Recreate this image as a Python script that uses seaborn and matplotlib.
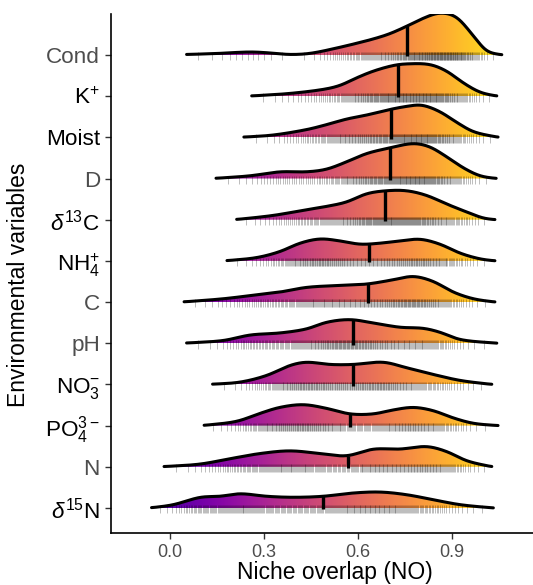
import numpy as np
import matplotlib
matplotlib.use("Agg")
import matplotlib.pyplot as plt
from matplotlib.patches import Polygon
import seaborn as sns

# ---------------- data ----------------
# categories from top to bottom
labels = [r"Cond", r"K$^{+}$", "Moist", "D", r"$\mathit{\delta}^{13}$C", r"NH$_4^{+}$",
          "C", "pH", r"NO$_3^{-}$", r"PO$_4^{3-}$", "N", r"$\mathit{\delta}^{15}$N"]

# ridge outlines: niche-overlap positions and ridge heights (in row units)
cond_x = [0.053, 0.15, 0.256, 0.32, 0.383, 0.45, 0.543, 0.6, 0.649, 0.70, 0.756, 0.809, 0.862, 0.916, 0.969, 1.01, 1.06]
cond_h = [0.012, 0.036, 0.073, 0.049, 0.012, 0.041, 0.187, 0.291, 0.388, 0.510, 0.697, 0.891, 1.019, 0.915, 0.468, 0.104, 0.0]

k_x = [0.261, 0.383, 0.489, 0.543, 0.596, 0.649, 0.713, 0.756, 0.830, 0.884, 0.937, 0.990, 1.044]
k_h = [0.005, 0.066, 0.163, 0.260, 0.444, 0.607, 0.745, 0.784, 0.769, 0.607, 0.323, 0.097, 0.0]

moist_x = [0.236, 0.330, 0.436, 0.500, 0.564, 0.628, 0.709, 0.756, 0.804, 0.862, 0.916, 0.969, 1.048]
moist_h = [0.005, 0.056, 0.187, 0.308, 0.444, 0.541, 0.687, 0.752, 0.784, 0.624, 0.364, 0.138, 0.0]

d_x = [0.147, 0.256, 0.351, 0.436, 0.500, 0.564, 0.628, 0.703, 0.777, 0.830, 0.884, 0.937, 0.990, 1.042]
d_h = [0.005, 0.066, 0.163, 0.163, 0.226, 0.405, 0.607, 0.745, 0.850, 0.769, 0.527, 0.260, 0.066, 0.0]

d13c_x = [0.213, 0.330, 0.436, 0.500, 0.564, 0.628, 0.692, 0.756, 0.820, 0.884, 0.948, 1.0, 1.038]
d13c_h = [0.005, 0.104, 0.243, 0.323, 0.430, 0.631, 0.704, 0.704, 0.590, 0.381, 0.187, 0.041, 0.0]

nh4_x = [0.182, 0.277, 0.351, 0.415, 0.479, 0.543, 0.607, 0.671, 0.735, 0.799, 0.863, 0.927, 0.990, 1.038]
nh4_h = [0.005, 0.080, 0.226, 0.430, 0.534, 0.485, 0.405, 0.430, 0.485, 0.527, 0.405, 0.187, 0.049, 0.0]

c_x = [0.045, 0.170, 0.277, 0.351, 0.436, 0.543, 0.628, 0.713, 0.777, 0.841, 0.905, 0.969, 1.038]
c_h = [0.005, 0.080, 0.177, 0.243, 0.357, 0.405, 0.437, 0.541, 0.624, 0.502, 0.243, 0.080, 0.0]

ph_x = [0.053, 0.170, 0.256, 0.351, 0.436, 0.500, 0.575, 0.649, 0.735, 0.809, 0.863, 0.927, 1.044]
ph_h = [0.005, 0.066, 0.201, 0.250, 0.347, 0.510, 0.575, 0.493, 0.388, 0.364, 0.267, 0.090, 0.0]

no3_x = [0.136, 0.224, 0.309, 0.383, 0.436, 0.511, 0.585, 0.681, 0.756, 0.841, 0.927, 1.028]
no3_h = [0.005, 0.056, 0.218, 0.461, 0.541, 0.485, 0.485, 0.541, 0.405, 0.243, 0.097, 0.0]

po4_x = [0.109, 0.213, 0.288, 0.351, 0.426, 0.500, 0.575, 0.649, 0.713, 0.777, 0.841, 0.905, 0.969, 1.048]
po4_h = [0.005, 0.104, 0.299, 0.444, 0.510, 0.420, 0.284, 0.284, 0.381, 0.444, 0.364, 0.187, 0.056, 0.0]

n_x = [-0.019, 0.096, 0.202, 0.288, 0.383, 0.479, 0.564, 0.649, 0.735, 0.820, 0.884, 0.948, 1.028]
n_h = [0.005, 0.066, 0.211, 0.323, 0.388, 0.323, 0.267, 0.430, 0.430, 0.493, 0.371, 0.146, 0.0]

d15n_x = [-0.059, 0.011, 0.096, 0.160, 0.224, 0.309, 0.394, 0.489, 0.585, 0.671, 0.756, 0.841, 0.927, 1.033]
d15n_h = [0.005, 0.080, 0.260, 0.284, 0.347, 0.284, 0.260, 0.284, 0.364, 0.388, 0.323, 0.201, 0.080, 0.0]

medians = [0.758, 0.730, 0.707, 0.702, 0.687, 0.636, 0.632, 0.585, 0.584, 0.575, 0.568, 0.488]

ridges_x = [cond_x, k_x, moist_x, d_x, d13c_x, nh4_x, c_x, ph_x, no3_x, po4_x, n_x, d15n_x]
ridges_h = [cond_h, k_h, moist_h, d_h, d13c_h, nh4_h, c_h, ph_h, no3_h, po4_h, n_h, d15n_h]

xticks = [0.0, 0.3, 0.6, 0.9]
xtick_labels = ["0.0", "0.3", "0.6", "0.9"]

# ---------------- style ----------------
sns.set_theme(style="ticks")
plt.rcParams["font.family"] = ["Liberation Sans", "DejaVu Sans"]
plt.rcParams["mathtext.fontset"] = "custom"
plt.rcParams["mathtext.rm"] = "Liberation Sans"
plt.rcParams["mathtext.it"] = "Liberation Sans:italic"
plt.rcParams["mathtext.default"] = "regular"

label_colors = ["#4d4d4d", "black", "black", "#4d4d4d", "black", "black",
                "#4d4d4d", "#4d4d4d", "black", "black", "#4d4d4d", "black"]
cmap = sns.color_palette("plasma", as_cmap=True)


def smooth_curve(x, y, xn):
    """Cubic Hermite curve through the read points, lightly smoothed for drawing."""
    x = np.asarray(x, float)
    y = np.asarray(y, float)
    n = len(x)
    h = np.diff(x)
    d = np.zeros(n)
    d[1:-1] = (y[2:] - y[:-2]) / (x[2:] - x[:-2])
    d[0] = (y[1] - y[0]) / h[0]
    d[-1] = (y[-1] - y[-2]) / h[-1]
    idx = np.clip(np.searchsorted(x, xn) - 1, 0, n - 2)
    t = (xn - x[idx]) / h[idx]
    h00 = 2 * t**3 - 3 * t**2 + 1
    h10 = t**3 - 2 * t**2 + t
    h01 = -2 * t**3 + 3 * t**2
    h11 = t**3 - t**2
    yn = (h00 * y[idx] + h10 * h[idx] * d[idx] + h01 * y[idx + 1] + h11 * h[idx] * d[idx + 1])
    # gentle rendering smoothing (kernel of ~0.012 in x)
    dx = xn[1] - xn[0]
    sig = 0.012 / dx
    k = np.arange(-int(3 * sig), int(3 * sig) + 1)
    ker = np.exp(-0.5 * (k / sig) ** 2)
    ker /= ker.sum()
    pad = len(k) // 2
    ypad = np.r_[np.full(pad, yn[0]), yn, np.full(pad, yn[-1])]
    return np.convolve(ypad, ker, mode="valid")


fig = plt.figure(figsize=(5.33, 5.85), dpi=100)
ax = fig.add_axes([111 / 533, 52 / 585, 422 / 533, 519 / 585])

XMIN, XMAX = -0.1885, 1.1597
nrows = len(labels)
grad_x = np.linspace(XMIN, XMAX, 800)
grad_rgba = cmap(np.clip(0.15 + 0.76 * grad_x, 0, 1))[None, :, :]

for i in range(nrows):
    base = nrows - 1 - i
    z = 2 + i * 5
    xr = np.asarray(ridges_x[i])
    xs = np.linspace(xr[0], xr[-1], 700)
    hs = np.clip(smooth_curve(xr, ridges_h[i], xs), 0.003, None)

    verts = np.column_stack([np.r_[xs, xs[-1], xs[0]], np.r_[base + hs, base, base]])
    poly = Polygon(verts, closed=True, facecolor="none", edgecolor="none",
                   transform=ax.transData, zorder=z)
    ax.add_patch(poly)
    im = ax.imshow(grad_rgba, extent=[XMIN, XMAX, base, base + 1.2],
                   aspect="auto", interpolation="bilinear", zorder=z)
    im.set_clip_path(poly)

    # rug of observations (positions from the ridge distribution)
    cdf = np.cumsum(hs)
    cdf = cdf / cdf[-1]
    q = (np.arange(260) + 0.5) / 260
    rug = np.interp(q, cdf, xs)
    ax.vlines(rug, base - 0.13, base + 0.07, color="black", alpha=0.33,
              lw=0.55, zorder=z + 1)

    sns.lineplot(x=xs, y=base + hs, ax=ax, color="black", lw=2.2,
                 estimator=None, sort=False, zorder=z + 2,
                 solid_capstyle="round")
    hm = float(np.interp(medians[i], xs, hs))
    ax.vlines(medians[i], base - 0.03, base + hm, color="black", lw=2.4,
              zorder=z + 2)

ax.set_xlim(XMIN, XMAX)
ax.set_ylim(-0.607, 11.995)

ax.set_yticks(range(nrows))
ax.set_yticklabels(labels[::-1], fontsize=16.2)
for lab, col in zip(ax.get_yticklabels(), label_colors[::-1]):
    lab.set_color(col)
ax.set_xticks(xticks)
ax.set_xticklabels(xtick_labels, fontsize=13, color="#4d4d4d")
ax.tick_params(axis="both", length=4.5, width=1.0, color="#333333", pad=3.5)

for s in ["top", "right"]:
    ax.spines[s].set_visible(False)
for s in ["left", "bottom"]:
    ax.spines[s].set_color("black")
    ax.spines[s].set_linewidth(1.2)

ax.set_xlabel("Niche overlap (NO)", fontsize=16.5, color="black")
ax.set_ylabel("Environmental variables", fontsize=16.5, color="black")
ax.xaxis.set_label_coords(0.531, -0.054)
ax.yaxis.set_label_coords(-0.192, 0.478)
ax.grid(False)

fig.savefig("out.png", dpi=100)
